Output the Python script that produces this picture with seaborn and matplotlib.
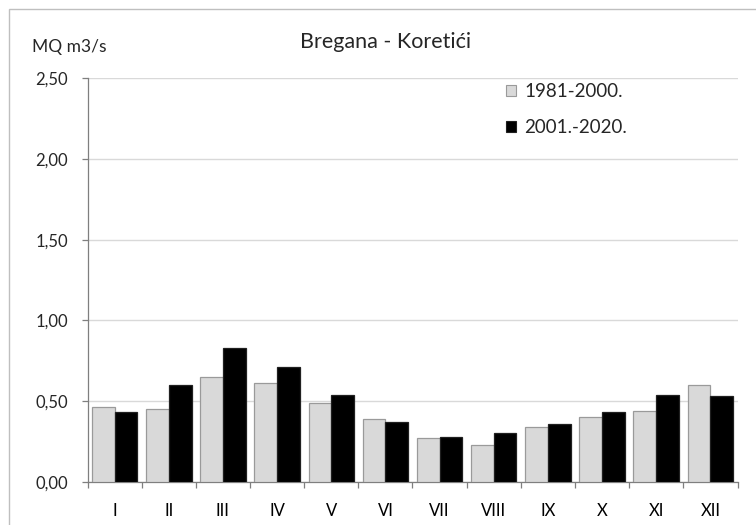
import matplotlib
matplotlib.use("Agg")
import matplotlib.pyplot as plt
import pandas as pd
import seaborn as sns
from matplotlib.patches import Rectangle

months = ["I", "II", "III", "IV", "V", "VI", "VII", "VIII", "IX", "X", "XI", "XII"]
period_1 = "1981-2000."
period_2 = "2001.-2020."
mq_1981_2000 = [0.46, 0.45, 0.65, 0.61, 0.49, 0.39, 0.27, 0.23, 0.34, 0.40, 0.44, 0.60]
mq_2001_2020 = [0.43, 0.60, 0.83, 0.71, 0.54, 0.37, 0.28, 0.30, 0.36, 0.43, 0.54, 0.53]
y_ticks = [0.0, 0.5, 1.0, 1.5, 2.0, 2.5]
y_tick_labels = ["0,00", "0,50", "1,00", "1,50", "2,00", "2,50"]

df = pd.DataFrame({
    "month": months * 2,
    "period": [period_1] * len(months) + [period_2] * len(months),
    "mq": mq_1981_2000 + mq_2001_2020,
})

sns.set_theme(style="white")
plt.rcParams["font.family"] = ["Lato", "DejaVu Sans"]

fig = plt.figure(figsize=(7.56, 5.25), dpi=100)
ax = fig.add_axes([87.5 / 756, 1 - 481.7 / 525, (737.5 - 87.5) / 756, (481.7 - 78.3) / 525])

edge_colors = ["#9a9a9a", "#202020"]
sns.barplot(
    data=df, x="month", y="mq", hue="period", order=months,
    hue_order=[period_1, period_2],
    palette={period_1: "#d9d9d9", period_2: "#000000"},
    width=0.84, gap=0, errorbar=None, ax=ax, zorder=3,
)
for cont, ec in zip(ax.containers, edge_colors):
    for bar in cont:
        bar.set_edgecolor(ec)
        bar.set_linewidth(0.9)

ax.set_xlim(-0.5, len(months) - 0.5)
ax.set_ylim(0, 2.5)
ax.set_yticks(y_ticks)
ax.set_yticklabels(y_tick_labels)
ax.yaxis.grid(True, color="#d9d9d9", linewidth=1.0, zorder=0)
ax.xaxis.grid(False)
ax.set_axisbelow(True)

# category boundaries carry the x ticks, labels sit at category centres
ax.set_xticks([i + 0.5 for i in range(-1, len(months))], minor=False)
ax.set_xticklabels([])
ax.set_xticks(range(len(months)), minor=True)
ax.set_xticklabels(months, minor=True)
ax.tick_params(axis="x", which="major", direction="out", length=4, width=0.9, color="#7f7f7f", bottom=True)
ax.tick_params(axis="x", which="minor", length=0, labelsize=12, pad=15, colors="#000000", bottom=True)
ax.tick_params(axis="y", direction="out", length=4.5, width=0.9, color="#7f7f7f", labelsize=12, pad=9.5, left=True)

for side in ["top", "right"]:
    ax.spines[side].set_visible(False)
ax.spines["left"].set_color("#7f7f7f")
ax.spines["bottom"].set_color("#7f7f7f")
ax.spines["left"].set_linewidth(0.9)
ax.spines["bottom"].set_linewidth(0.9)
ax.set_xlabel("")
ax.set_ylabel("")

leg = ax.legend(
    loc="upper left", bbox_to_anchor=(493 / 756, 1 - 70 / 525),
    bbox_transform=fig.transFigure, frameon=False, borderpad=0.2,
    fontsize=13.5, handlelength=0.55, handleheight=0.55, handletextpad=0.4,
    labelspacing=1.0,
)
for handle, ec in zip(leg.legend_handles, edge_colors):
    handle.set_edgecolor(ec)
    handle.set_linewidth(0.8)

fig.text(386 / 756, 1 - 42 / 525, "Bregana - Koretići", ha="center", va="center", fontsize=15.5)
fig.text(32 / 756, 1 - 47 / 525, "MQ m3/s", ha="left", va="center", fontsize=12.5)

fig.patches.append(Rectangle((9 / 756, -0.05), 1.1, 1 - 9.3 / 525 + 0.05,
                             transform=fig.transFigure, fill=False,
                             edgecolor="#bfbfbf", linewidth=1.0))

fig.savefig("out.png", dpi=100)
